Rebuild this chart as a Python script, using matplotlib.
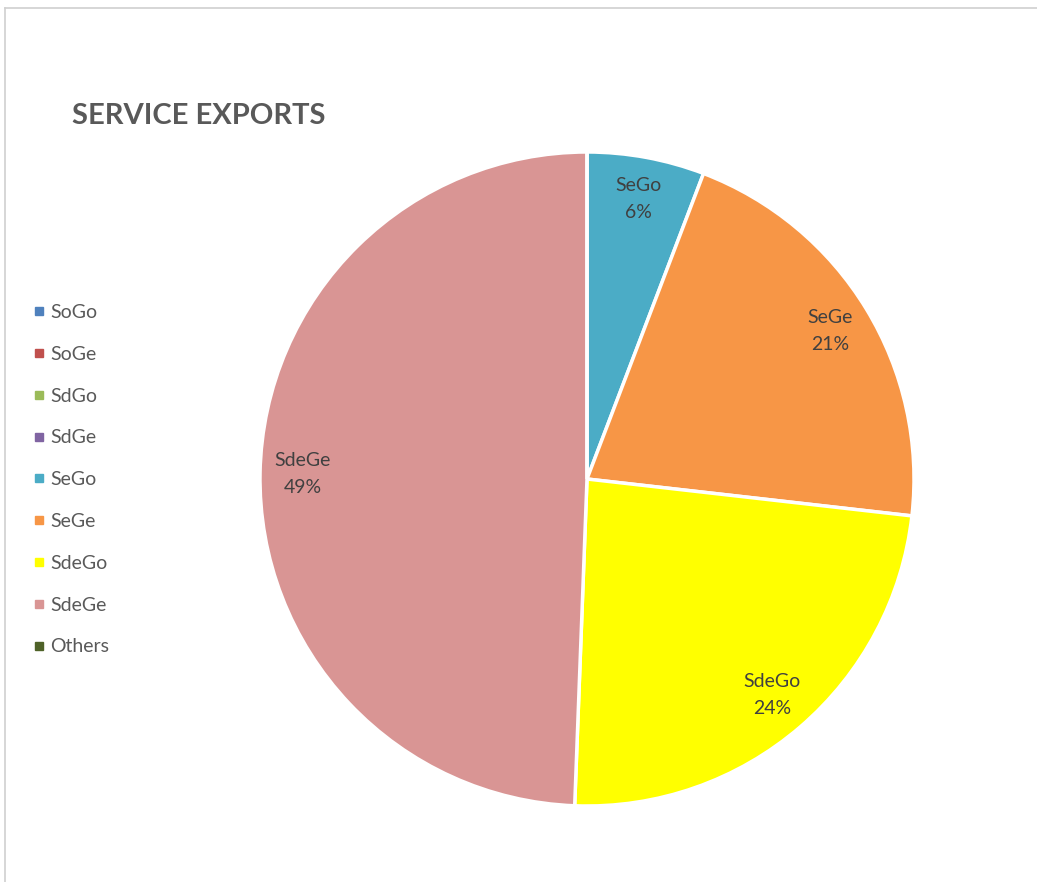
import matplotlib.pyplot as plt
from matplotlib.lines import Line2D

categories = ["SoGo", "SoGe", "SdGo", "SdGe", "SeGo", "SeGe", "SdeGo", "SdeGe", "Others"]
shares = [0, 0, 0, 0, 5.8, 21.0, 23.8, 49.4, 0]
colors = ["#4F81BD", "#C0504D", "#9BBB59", "#8064A2", "#4BACC6",
          "#F79646", "#FFFF00", "#D99594", "#4F6228"]

plt.rcParams['font.family'] = ['Lato', 'DejaVu Sans']
W, H = 1037, 882
fig = plt.figure(figsize=(W / 100, H / 100), dpi=100)

# pie centred at (587, 479) px, radius 327 px
cx, cy, r = 587, 479, 327
ax = fig.add_axes([(cx - r) / W, (H - cy - r) / H, 2 * r / W, 2 * r / H])

idx = iter(range(len(shares)))

def label_fmt(pct):
    i = next(idx)
    if shares[i] <= 0:
        return ""
    return f"{categories[i]}\n{pct:.0f}%"

wedges, _, autotexts = ax.pie(
    shares, colors=colors, startangle=90, counterclock=False,
    autopct=label_fmt, pctdistance=0.87,
    wedgeprops=dict(edgecolor="white", linewidth=2.5),
    textprops=dict(color="#404040", fontsize=14, linespacing=1.7),
)
ax.set_xlim(-1, 1)
ax.set_ylim(-1, 1)
ax.set_aspect("equal")

fig.text(72 / W, 1 - 116 / H, "SERVICE EXPORTS", fontsize=21, fontweight="bold",
         color="#595959", va="center", ha="left")

handles = [Line2D([], [], marker="s", linestyle="", color=c, markersize=5.5)
           for c in colors]
leg = fig.legend(handles, categories, loc="upper left",
                 bbox_to_anchor=(33 / W, 1 - 304 / H), frameon=False,
                 fontsize=14, labelspacing=1.275, handlelength=0.6,
                 handletextpad=0.3, borderpad=0, borderaxespad=0)
for t in leg.get_texts():
    t.set_color("#595959")

# chart frame
fig.add_artist(Line2D([5 / W, 1], [1 - 8 / H, 1 - 8 / H], color="#d0d0d0", lw=1.2,
                      transform=fig.transFigure))
fig.add_artist(Line2D([5 / W, 5 / W], [0, 1 - 8 / H], color="#d0d0d0", lw=1.2,
                      transform=fig.transFigure))

fig.savefig("out.png", dpi=100, facecolor="white")
